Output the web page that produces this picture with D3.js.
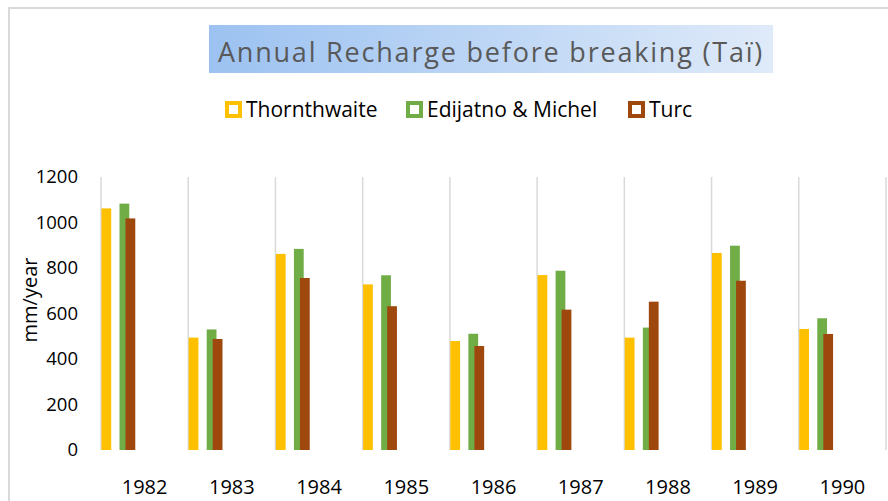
<!DOCTYPE html>
<html>
<head>
<meta charset="utf-8">
<script src="https://cdn.jsdelivr.net/npm/d3@7"></script>
<style>
  html, body { margin: 0; padding: 0; background: #fff; }
  svg { display: block; font-family: "Open Sans", sans-serif; }
</style>
</head>
<body>
<svg id="chart" width="888" height="501"></svg>
<script>
// values (mm/year)
const years = ["1982", "1983", "1984", "1985", "1986", "1987", "1988", "1989", "1990"];
const seriesNames = ["Thornthwaite", "Edijatno & Michel", "Turc"];
const thornthwaite = [1062, 494, 862, 728, 479, 769, 494, 866, 532];
const edijatno = [1083, 530, 884, 768, 511, 788, 538, 898, 579];
const turc = [1018, 488, 756, 632, 457, 617, 652, 744, 510];
const yTicks = [0, 200, 400, 600, 800, 1000, 1200];

const colors = ["#FFC000", "#70AD47", "#9E480E"];
const seriesValues = [thornthwaite, edijatno, turc];

const svg = d3.select("#chart");

// outer frame (only top and left edges show in the shot)
svg.append("path")
  .attr("d", "M9,501V8H888")
  .attr("fill", "none")
  .attr("stroke", "#d9d9d9")
  .attr("stroke-width", 2);

// title box with a blue gradient
const grad = svg.append("defs").append("linearGradient")
  .attr("id", "titleGrad").attr("x1", "0%").attr("x2", "100%");
grad.append("stop").attr("offset", "0%").attr("stop-color", "#9cc2f1");
grad.append("stop").attr("offset", "100%").attr("stop-color", "#dfeaf9");

svg.append("rect")
  .attr("x", 209).attr("y", 25).attr("width", 564).attr("height", 48)
  .attr("fill", "url(#titleGrad)");
svg.append("text")
  .attr("x", 491).attr("y", 62)
  .attr("text-anchor", "middle")
  .attr("font-size", 27)
  .attr("letter-spacing", 1.8)
  .attr("fill", "#595959")
  .text("Annual Recharge before breaking (Taï)");

// scales
const x = d3.scaleBand().domain(years).range([101, 886]).padding(0);
const xSub = d3.scaleOrdinal().domain(seriesNames).range([0.005, 0.212, 0.281]);
const barW = x.bandwidth() * 0.112;
const y = d3.scaleLinear().domain([0, 1200]).range([450, 177]);

// vertical category gridlines
svg.append("g")
  .selectAll("line")
  .data(years.concat(["end"]))
  .join("line")
  .attr("x1", (d, i) => i < years.length ? x(d) : x.range()[1])
  .attr("x2", (d, i) => i < years.length ? x(d) : x.range()[1])
  .attr("y1", y(1200)).attr("y2", y(0))
  .attr("stroke", "#d9d9d9")
  .attr("stroke-width", 1.5);

// bars
seriesNames.forEach((name, s) => {
  svg.append("g")
    .selectAll("rect")
    .data(years.map((yr, i) => ({ yr, v: seriesValues[s][i] })))
    .join("rect")
    .attr("x", d => x(d.yr) + xSub(name) * x.bandwidth())
    .attr("y", d => y(d.v))
    .attr("width", barW)
    .attr("height", d => y(0) - y(d.v))
    .attr("fill", colors[s]);
});

// y axis (labels only)
const yAxis = svg.append("g")
  .attr("transform", "translate(78,0)")
  .call(d3.axisLeft(y).tickValues(yTicks).tickFormat(d3.format("d")).tickSize(0).tickPadding(0));
yAxis.select(".domain").remove();
yAxis.selectAll("text")
  .attr("font-family", "Open Sans, sans-serif")
  .attr("font-size", 18.5)
  .attr("fill", "#000");

// x axis (labels only)
const xAxis = svg.append("g")
  .attr("transform", "translate(0,480)")
  .call(d3.axisBottom(x).tickSize(0).tickPadding(0));
xAxis.select(".domain").remove();
xAxis.selectAll("text")
  .attr("font-family", "Open Sans, sans-serif")
  .attr("font-size", 20)
  .attr("fill", "#000");

// y axis title
svg.append("text")
  .attr("transform", "translate(37,300) rotate(-90)")
  .attr("text-anchor", "middle")
  .attr("font-size", 20)
  .attr("fill", "#000")
  .text("mm/year");

// legend
const legendX = [225, 406, 628];
const legend = svg.append("g");
seriesNames.forEach((name, s) => {
  const g = legend.append("g").attr("transform", `translate(${legendX[s]},101)`);
  g.append("rect")
    .attr("x", 2).attr("y", 2).attr("width", 13).attr("height", 13)
    .attr("fill", "#fff")
    .attr("stroke", colors[s])
    .attr("stroke-width", 4);
  g.append("text")
    .attr("x", 21).attr("y", 15.5)
    .attr("font-size", 21)
    .attr("fill", "#000")
    .text(name);
});
</script>
</body>
</html>
